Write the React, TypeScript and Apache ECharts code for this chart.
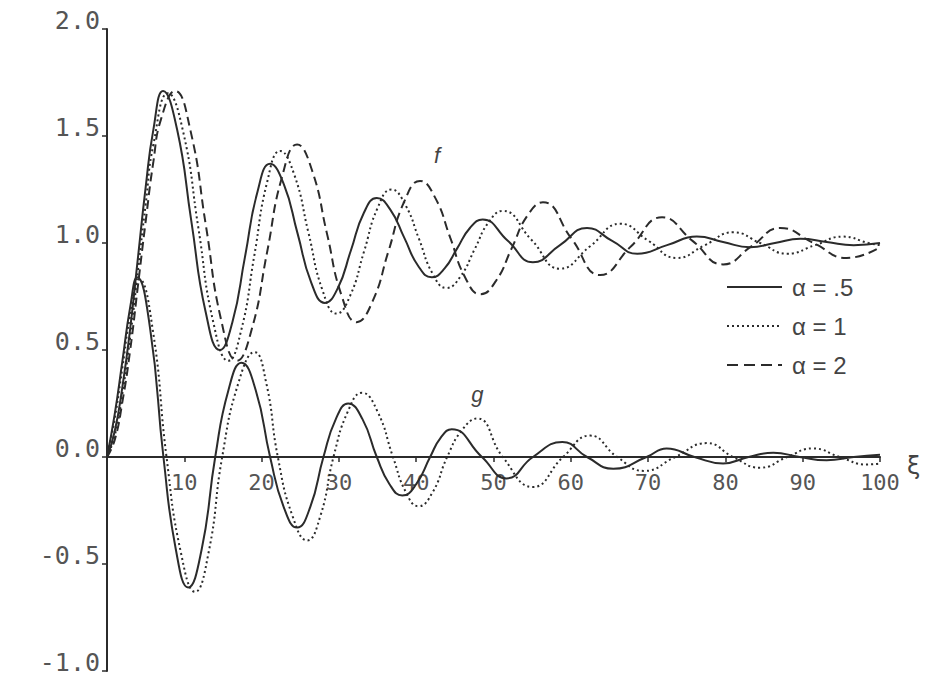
import React, { useEffect, useRef } from "react";
import * as echarts from "echarts";

// f(ξ) for α = .5 (solid), α = 1 (dotted), α = 2 (dashed) — [ξ, value]
const fHalf: [number, number][] = [
  [0, 0], [1, 0.12], [2, 0.33], [3, 0.6], [4, 0.93], [5, 1.26], [6, 1.53], [7.25, 1.71],
  [9.07, 1.53], [10.9, 1.105], [12.75, 0.68], [14.6, 0.5], [16.22, 0.63], [17.85, 0.935],
  [19.47, 1.24], [21.1, 1.37], [22.87, 1.275], [24.65, 1.045], [26.42, 0.815], [28.2, 0.72],
  [29.87, 0.79], [31.55, 0.965], [33.22, 1.14], [34.9, 1.21], [36.67, 1.155], [38.45, 1.025],
  [40.22, 0.895], [42.0, 0.84], [43.65, 0.88], [45.3, 0.975], [46.95, 1.07], [48.6, 1.11],
  [51.85, 1.01], [55.1, 0.91], [58.6, 0.99], [62.1, 1.07], [65.35, 1.01], [68.6, 0.95],
  [72.45, 0.99], [76.3, 1.03], [79.7, 1.005], [83.2, 0.98], [86.4, 1.0], [89.7, 1.02],
  [93.1, 1.005], [96.6, 0.99], [100, 1.0],
];
const fOne: [number, number][] = [
  [0, 0], [1, 0.1], [2, 0.3], [3, 0.56], [4, 0.87], [5, 1.18], [6, 1.46], [7.9, 1.7],
  [9.85, 1.52], [11.8, 1.075], [13.75, 0.63], [15.7, 0.45], [17.38, 0.595], [19.05, 0.94],
  [20.72, 1.285], [22.4, 1.43], [24.22, 1.32], [26.05, 1.05], [27.87, 0.78], [29.7, 0.67],
  [31.47, 0.755], [33.25, 0.96], [35.02, 1.165], [36.8, 1.25], [38.57, 1.18], [40.35, 1.02],
  [42.12, 0.857], [43.9, 0.79], [45.72, 0.843], [47.55, 0.97], [49.37, 1.097], [51.2, 1.15],
  [54.9, 1.015], [58.6, 0.88], [62.5, 0.985], [66.4, 1.09], [70.05, 1.01], [73.7, 0.93],
  [77.35, 0.99], [81.0, 1.05], [84.5, 1.0], [88.0, 0.95], [91.6, 0.99], [95.2, 1.03],
  [98.5, 1.0], [100, 0.99],
];
const fTwo: [number, number][] = [
  [0, 0], [1, 0.08], [2, 0.26], [3, 0.5], [4, 0.8], [5, 1.1], [6, 1.38], [7, 1.58], [8.8, 1.71],
  [10.8, 1.525], [12.8, 1.08], [14.8, 0.635], [16.8, 0.45], [18.75, 0.6], [20.7, 0.955],
  [22.65, 1.31], [24.6, 1.46], [26.52, 1.34], [28.45, 1.045], [30.37, 0.752], [32.3, 0.63],
  [34.35, 0.727], [36.4, 0.96], [38.45, 1.193], [40.5, 1.29], [42.45, 1.212], [44.4, 1.025],
  [46.35, 0.838], [48.3, 0.76], [50.32, 0.823], [52.35, 0.975], [54.37, 1.127], [56.4, 1.19],
  [60.1, 1.02], [63.8, 0.85], [67.8, 0.985], [71.8, 1.12], [75.75, 1.01], [79.7, 0.9],
  [83.4, 0.985], [87.1, 1.07], [91.4, 1.0], [95.7, 0.93], [100, 0.98],
];

// g(ξ) for α = .5 (solid) and α = 1 (dotted)
const gHalf: [number, number][] = [
  [0, 0], [1, 0.2], [2, 0.45], [3, 0.7], [3.9, 0.84], [5.6, 0.594], [7.3, 0], [8.9, -0.431],
  [10.5, -0.61], [12.25, -0.431], [14.0, 0], [15.7, 0.311], [17.4, 0.44], [19.25, 0.311],
  [21.1, 0], [22.85, -0.233], [24.6, -0.33], [26.3, -0.233], [28.0, 0], [29.6, 0.177],
  [31.2, 0.25], [33.05, 0.177], [34.9, 0], [36.55, -0.127], [38.2, -0.18], [40.0, -0.127],
  [41.8, 0], [43.2, 0.092], [44.6, 0.13], [48.5, 0], [51.7, -0.1], [55.1, 0], [58.9, 0.07],
  [62.1, 0], [65.5, -0.055], [69.8, 0], [72.4, 0.04], [76.0, 0], [79.7, -0.03], [83.0, 0],
  [86.2, 0.02], [89.6, 0], [93.1, -0.015], [96.6, 0], [100, 0.01],
];
const gOne: [number, number][] = [
  [0, 0], [1, 0.18], [2, 0.42], [3, 0.66], [4.2, 0.83], [5.95, 0.587], [7.7, 0], [9.55, -0.445],
  [11.4, -0.63], [13.15, -0.445], [14.9, 0], [17.0, 0.346], [19.1, 0.49], [20.6, 0.346],
  [22.1, 0], [24.0, -0.276], [25.9, -0.39], [27.6, -0.276], [29.3, 0], [31.15, 0.212],
  [33.0, 0.3], [35.0, 0.212], [37.0, 0], [38.65, -0.163], [40.3, -0.23], [42.15, -0.163],
  [44.0, 0], [45.95, 0.127], [47.9, 0.18], [51.2, 0], [55.1, -0.14], [59.0, 0], [62.5, 0.1],
  [66.0, 0], [69.5, -0.065], [73.5, 0], [77.6, 0.065], [81.0, 0], [84.5, -0.05], [88.0, 0],
  [91.3, 0.04], [94.8, 0], [98.3, -0.035], [100, -0.03],
];

const legendNames = ["α = .5", "α = 1", "α = 2"];
const curveLabels = [
  { text: "f", x: 42.7, y: 1.41 },
  { text: "g", x: 47.9, y: 0.29 },
];

const INK = "#2b2b2b";
const DOT = [2, 3];
const DASH = [9, 5];
const lineStyles: any[] = [
  { color: INK, width: 2, type: "solid" },
  { color: INK, width: 2, type: DOT },
  { color: INK, width: 2, type: DASH },
];
const legendDash: (number[] | null)[] = [null, DOT, [11, 6]];

export default function App() {
  const ref = useRef<HTMLDivElement>(null);
  useEffect(() => {
    if (!ref.current) return;
    const chart = echarts.init(ref.current, null, { renderer: "svg" });
    const mk = (name: string, data: [number, number][], ls: any) => ({
      name,
      type: "line",
      data,
      smooth: 0.5,
      showSymbol: false,
      symbol: "none",
      lineStyle: ls,
      itemStyle: { color: INK },
      z: 3,
    });
    chart.setOption({
      animation: false,
      backgroundColor: "#fff",
      grid: { left: 107, right: 48, top: 29, bottom: 9, outerBoundsMode: "none", containLabel: false },
      xAxis: {
        type: "value",
        min: 0,
        max: 100,
        interval: 10,
        position: "bottom",
        offset: -214,
        name: "ξ",
        nameLocation: "end",
        nameGap: 27,
        nameTextStyle: { fontFamily: "DejaVu Sans", fontSize: 24, color: "#444", verticalAlign: "top", lineHeight: 18 },
        axisLine: { onZero: false, lineStyle: { color: INK, width: 2 } },
        axisTick: { show: true, length: 5, lineStyle: { color: INK, width: 1.5 } },
        axisLabel: {
          formatter: (v: number) => (v === 0 ? "" : String(v)),
          fontFamily: "DejaVu Sans Mono",
          fontSize: 22,
          color: "#555",
          margin: 14,
        },
        splitLine: { show: false },
      },
      yAxis: {
        type: "value",
        min: -1,
        max: 2,
        interval: 0.5,
        axisLine: { show: true, onZero: false, lineStyle: { color: INK, width: 2 } },
        axisTick: { show: true, length: 5, lineStyle: { color: INK, width: 1.5 } },
        axisLabel: {
          formatter: (v: number) => v.toFixed(1),
          fontFamily: "DejaVu Sans Mono",
          fontSize: 25,
          color: "#555",
          margin: 7,
          verticalAlign: "bottom",
          verticalAlignMinLabel: "bottom",
          verticalAlignMaxLabel: "bottom",
          lineHeight: 18,
        },
        splitLine: { show: false },
      },
      series: [
        mk(legendNames[0], fHalf, lineStyles[0]),
        mk(legendNames[1], fOne, lineStyles[1]),
        mk(legendNames[2], fTwo, lineStyles[2]),
        mk(legendNames[0], gHalf, lineStyles[0]),
        mk(legendNames[1], gOne, lineStyles[1]),
      ],
    });
    const graphics: any[] = curveLabels.map((l) => {
      const p = chart.convertToPixel({ gridIndex: 0 }, [l.x, l.y]) as number[];
      return {
        type: "text",
        x: p[0],
        y: p[1],
        style: {
          text: l.text,
          font: "italic 22px 'Liberation Sans'",
          fill: "#444",
          align: "center",
          verticalAlign: "middle",
        },
      };
    });
    // legend block (line sample + label per α)
    legendNames.forEach((name, i) => {
      const cy = 287 + i * 39;
      graphics.push({
        type: "line",
        shape: { x1: 727, y1: cy, x2: 782, y2: cy },
        style: { stroke: INK, lineWidth: 2, lineDash: legendDash[i] || undefined },
      });
      graphics.push({
        type: "text",
        x: 792,
        y: cy,
        style: {
          text: name,
          font: "24px 'Liberation Sans'",
          fill: "#444",
          align: "left",
          verticalAlign: "middle",
        },
      });
    });
    chart.setOption({ graphic: graphics });
    return () => chart.dispose();
  }, []);
  return <div ref={ref} style={{ width: 928, height: 680, margin: -8 }} />;
}
